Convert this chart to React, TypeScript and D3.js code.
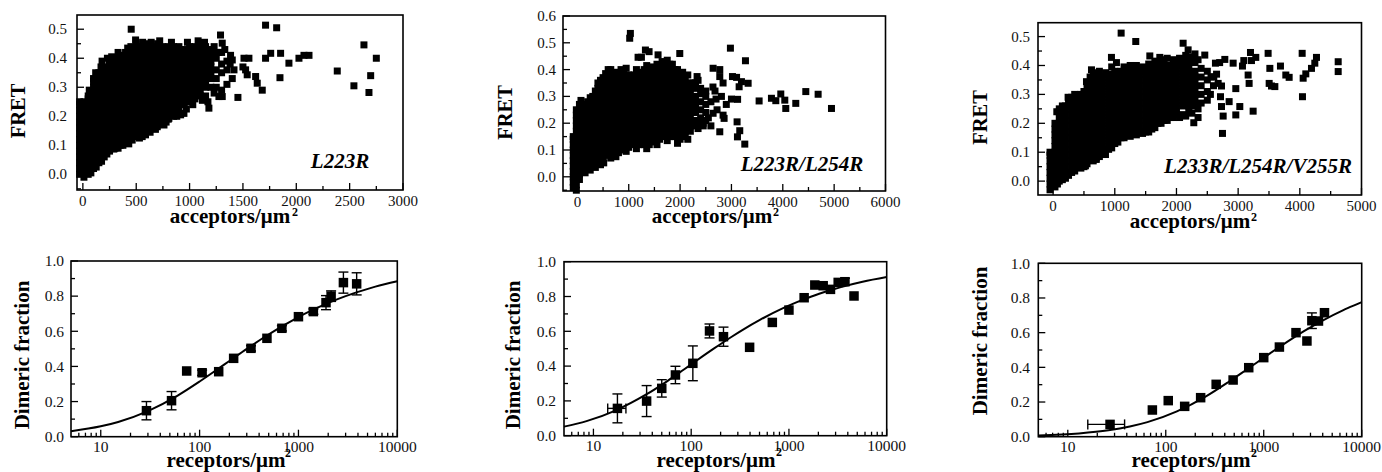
import React from "react";
import * as d3 from "d3";

type Pt = [number, number];
type Col = [number, number[]];

const FONT = '"Liberation Serif", "Times New Roman", Times, serif';

// ---------- FRET scatter data (dense cores as columns x -> FRET values, plus sparse points) ----------
const l223rCols: Col[] = [
  [-30, [0.0, 0.02, 0.04, 0.06, 0.08, 0.1, 0.12, 0.14, 0.16, 0.18, 0.2, 0.22, 0.24, 0.25]],
  [10, [-0.01, 0.01, 0.03, 0.05, 0.07, 0.09, 0.11, 0.13, 0.15, 0.17, 0.19, 0.21, 0.23, 0.25]],
  [50, [0.0, 0.02, 0.04, 0.06, 0.08, 0.1, 0.12, 0.14, 0.16, 0.18, 0.2, 0.22, 0.24, 0.26, 0.27]],
  [100, [0.02, 0.04, 0.06, 0.08, 0.1, 0.12, 0.14, 0.16, 0.18, 0.2, 0.22, 0.24, 0.26, 0.28, 0.3, 0.32, 0.33]],
  [150, [0.04, 0.06, 0.08, 0.1, 0.12, 0.14, 0.16, 0.18, 0.2, 0.22, 0.24, 0.26, 0.28, 0.3, 0.32, 0.34, 0.35]],
  [200, [0.06, 0.08, 0.1, 0.12, 0.14, 0.16, 0.18, 0.2, 0.22, 0.24, 0.26, 0.28, 0.3, 0.32, 0.34, 0.36, 0.37]],
  [250, [0.08, 0.1, 0.12, 0.14, 0.16, 0.18, 0.2, 0.22, 0.24, 0.26, 0.28, 0.3, 0.32, 0.34, 0.36, 0.38, 0.39]],
  [300, [0.09, 0.11, 0.13, 0.15, 0.17, 0.19, 0.21, 0.23, 0.25, 0.27, 0.29, 0.31, 0.33, 0.35, 0.37, 0.39, 0.4]],
  [350, [0.1, 0.12, 0.14, 0.16, 0.18, 0.2, 0.22, 0.24, 0.26, 0.28, 0.3, 0.32, 0.34, 0.36, 0.38, 0.4, 0.41]],
  [400, [0.11, 0.13, 0.15, 0.17, 0.19, 0.21, 0.23, 0.25, 0.27, 0.29, 0.31, 0.33, 0.35, 0.37, 0.39, 0.41, 0.42]],
  [450, [0.12, 0.14, 0.16, 0.18, 0.2, 0.22, 0.24, 0.26, 0.28, 0.3, 0.32, 0.34, 0.36, 0.38, 0.4, 0.42, 0.44]],
  [500, [0.13, 0.15, 0.17, 0.19, 0.21, 0.23, 0.25, 0.27, 0.29, 0.31, 0.33, 0.35, 0.37, 0.39, 0.41, 0.43, 0.45]],
  [550, [0.14, 0.16, 0.18, 0.2, 0.22, 0.24, 0.26, 0.28, 0.3, 0.32, 0.34, 0.36, 0.38, 0.4, 0.42, 0.44]],
  [600, [0.15, 0.17, 0.19, 0.21, 0.23, 0.25, 0.27, 0.29, 0.31, 0.33, 0.35, 0.37, 0.39, 0.41, 0.43, 0.45]],
  [650, [0.16, 0.18, 0.2, 0.22, 0.24, 0.26, 0.28, 0.3, 0.32, 0.34, 0.36, 0.38, 0.4, 0.42, 0.44]],
  [700, [0.17, 0.19, 0.21, 0.23, 0.25, 0.27, 0.29, 0.31, 0.33, 0.35, 0.37, 0.39, 0.41, 0.43, 0.45]],
  [750, [0.18, 0.2, 0.22, 0.24, 0.26, 0.28, 0.3, 0.32, 0.34, 0.36, 0.38, 0.4, 0.42, 0.44]],
  [800, [0.19, 0.21, 0.23, 0.25, 0.27, 0.29, 0.31, 0.33, 0.35, 0.37, 0.39, 0.41, 0.43, 0.44]],
  [850, [0.2, 0.22, 0.24, 0.26, 0.28, 0.3, 0.32, 0.34, 0.36, 0.38, 0.4, 0.42, 0.44]],
  [900, [0.21, 0.23, 0.25, 0.27, 0.29, 0.31, 0.33, 0.35, 0.37, 0.39, 0.41, 0.43, 0.44]],
  [950, [0.24, 0.26, 0.28, 0.3, 0.32, 0.34, 0.36, 0.38, 0.4, 0.42, 0.43]],
  [1000, [0.25, 0.27, 0.29, 0.31, 0.33, 0.35, 0.37, 0.39, 0.41, 0.43, 0.44]],
  [1050, [0.26, 0.28, 0.3, 0.32, 0.34, 0.36, 0.38, 0.4, 0.42, 0.44]],
  [1100, [0.27, 0.29, 0.31, 0.33, 0.35, 0.37, 0.39, 0.41, 0.43, 0.45]],
  [1150, [0.27, 0.3, 0.32, 0.34, 0.36, 0.38, 0.4, 0.42, 0.44]],
  [1200, [0.3, 0.33, 0.35, 0.37, 0.39, 0.41, 0.43]],
  [1250, [0.3, 0.33, 0.36, 0.4, 0.42]],
  [1300, [0.29, 0.35, 0.38, 0.42]],
  [1350, [0.31, 0.36, 0.39]],
];
const l223rPts: Pt[] = [
  [453, 0.5], [494, 0.463], [1290, 0.48], [1306, 0.452], [1270, 0.42], [180, 0.39], [230, 0.4], [120, 0.35],
  [60, 0.29], [130, 0.345], [170, 0.37], [270, 0.405], [330, 0.42], [420, 0.435], [560, 0.455], [640, 0.455],
  [720, 0.46], [830, 0.455], [980, 0.455], [1080, 0.46], [1140, 0.455], [1230, 0.44], [1330, 0.43],
  [1380, 0.38], [1400, 0.33],
  [75, 0.005], [125, 0.025], [175, 0.045], [225, 0.07], [330, 0.09], [430, 0.105], [530, 0.125], [630, 0.145],
  [680, 0.155], [780, 0.18], [970, 0.225], [1030, 0.24], [1120, 0.255], [1230, 0.28],
  [290, 0.087], [375, 0.1], [462, 0.118], [556, 0.13], [587, 0.136], [697, 0.164], [760, 0.17],
  [806, 0.193], [880, 0.2], [916, 0.205], [947, 0.21], [1181, 0.228], [1172, 0.25], [1275, 0.268], [1306, 0.268],
  [1384, 0.41], [1400, 0.394], [1416, 0.36], [1453, 0.265], [1510, 0.4], [1525, 0.36], [1540, 0.343],
  [1556, 0.4], [1500, 0.37], [1619, 0.337], [1634, 0.314], [1681, 0.29], [1712, 0.4], [1712, 0.514],
  [1760, 0.417], [1816, 0.505], [1853, 0.417], [1847, 0.333], [1931, 0.383], [2025, 0.4], [2072, 0.41],
  [2119, 0.41], [2384, 0.356], [2540, 0.305], [2634, 0.446], [2681, 0.282], [2697, 0.34], [2750, 0.4],
];

const l254rCols: Col[] = [
  [-80, [-0.04, -0.02, 0.0, 0.02, 0.04, 0.06, 0.08, 0.1, 0.12, 0.14, 0.15]],
  [-20, [-0.05, -0.03, -0.01, 0.01, 0.03, 0.05, 0.07, 0.09, 0.11, 0.13, 0.15, 0.17, 0.19, 0.21, 0.23, 0.25]],
  [40, [-0.01, 0.01, 0.03, 0.05, 0.07, 0.09, 0.11, 0.13, 0.15, 0.17, 0.19, 0.21, 0.23, 0.25, 0.27]],
  [100, [0.02, 0.04, 0.06, 0.08, 0.1, 0.12, 0.14, 0.16, 0.18, 0.2, 0.22, 0.24, 0.26, 0.27]],
  [200, [0.03, 0.05, 0.07, 0.09, 0.11, 0.13, 0.15, 0.17, 0.19, 0.21, 0.23, 0.25, 0.27, 0.28]],
  [300, [0.04, 0.06, 0.08, 0.1, 0.12, 0.14, 0.16, 0.18, 0.2, 0.22, 0.24, 0.26, 0.28, 0.3]],
  [400, [0.05, 0.07, 0.09, 0.11, 0.13, 0.15, 0.17, 0.19, 0.21, 0.23, 0.25, 0.27, 0.29, 0.31, 0.33, 0.35]],
  [500, [0.06, 0.08, 0.1, 0.12, 0.14, 0.16, 0.18, 0.2, 0.22, 0.24, 0.26, 0.28, 0.3, 0.32, 0.34, 0.36, 0.37]],
  [600, [0.08, 0.1, 0.12, 0.14, 0.16, 0.18, 0.2, 0.22, 0.24, 0.26, 0.28, 0.3, 0.32, 0.34, 0.36, 0.38, 0.4]],
  [700, [0.08, 0.1, 0.12, 0.14, 0.16, 0.18, 0.2, 0.22, 0.24, 0.26, 0.28, 0.3, 0.32, 0.34, 0.36, 0.38]],
  [800, [0.09, 0.11, 0.13, 0.15, 0.17, 0.19, 0.21, 0.23, 0.25, 0.27, 0.29, 0.31, 0.33, 0.35, 0.37, 0.38]],
  [900, [0.1, 0.12, 0.14, 0.16, 0.18, 0.2, 0.22, 0.24, 0.26, 0.28, 0.3, 0.32, 0.34, 0.36, 0.38, 0.39]],
  [1000, [0.11, 0.13, 0.15, 0.17, 0.19, 0.21, 0.23, 0.25, 0.27, 0.29, 0.31, 0.33, 0.35, 0.37, 0.38]],
  [1100, [0.12, 0.14, 0.16, 0.18, 0.2, 0.22, 0.24, 0.26, 0.28, 0.3, 0.32, 0.34, 0.36, 0.38]],
  [1200, [0.12, 0.14, 0.16, 0.18, 0.2, 0.22, 0.24, 0.26, 0.28, 0.3, 0.32, 0.34, 0.36, 0.38, 0.39]],
  [1300, [0.12, 0.14, 0.16, 0.18, 0.2, 0.22, 0.24, 0.26, 0.28, 0.3, 0.32, 0.34, 0.36, 0.38, 0.4]],
  [1400, [0.12, 0.14, 0.16, 0.18, 0.2, 0.22, 0.24, 0.26, 0.28, 0.3, 0.32, 0.34, 0.36, 0.38, 0.39]],
  [1500, [0.13, 0.15, 0.17, 0.19, 0.21, 0.23, 0.25, 0.27, 0.29, 0.31, 0.33, 0.35, 0.37, 0.39, 0.4]],
  [1600, [0.14, 0.16, 0.18, 0.2, 0.22, 0.24, 0.26, 0.28, 0.3, 0.32, 0.34, 0.36, 0.38, 0.4, 0.41]],
  [1700, [0.15, 0.17, 0.19, 0.21, 0.23, 0.25, 0.27, 0.29, 0.31, 0.33, 0.35, 0.37, 0.39, 0.41, 0.42]],
  [1800, [0.15, 0.17, 0.19, 0.21, 0.23, 0.25, 0.27, 0.29, 0.31, 0.33, 0.35, 0.37, 0.39, 0.41, 0.42]],
  [1900, [0.15, 0.17, 0.19, 0.21, 0.23, 0.25, 0.27, 0.29, 0.31, 0.33, 0.35, 0.37, 0.39, 0.4]],
  [2000, [0.14, 0.16, 0.18, 0.2, 0.22, 0.24, 0.26, 0.28, 0.3, 0.32, 0.34, 0.36, 0.38]],
  [2100, [0.15, 0.17, 0.19, 0.21, 0.23, 0.25, 0.27, 0.29, 0.31, 0.33, 0.35, 0.37]],
  [2200, [0.17, 0.19, 0.21, 0.23, 0.25, 0.27, 0.29, 0.31, 0.33, 0.35]],
  [2300, [0.19, 0.21, 0.24, 0.26, 0.28, 0.3, 0.33, 0.35]],
  [2400, [0.2, 0.22, 0.25, 0.28, 0.31, 0.33]],
  [2500, [0.21, 0.24, 0.27, 0.3]],
];
const l254rPts: Pt[] = [
  [1019, 0.517], [1032, 0.535], [1182, 0.446], [1247, 0.446], [1325, 0.473], [1396, 0.467], [1571, 0.455],
  [1994, 0.46], [2980, 0.48], [3273, 0.433], [2331, 0.374], [2643, 0.405], [2250, 0.35], [513, 0.052],
  [70, 0.285], [250, 0.295], [350, 0.32], [450, 0.36], [550, 0.385], [650, 0.4], [750, 0.39], [850, 0.4],
  [950, 0.405], [1150, 0.4], [1350, 0.415], [1450, 0.41], [1550, 0.42], [1650, 0.43], [1750, 0.435],
  [1850, 0.42], [1950, 0.4], [2050, 0.39], [2150, 0.38], [2350, 0.36],
  [150, 0.015], [250, 0.025], [350, 0.035], [450, 0.045], [650, 0.07], [750, 0.075], [950, 0.095],
  [1150, 0.105], [1350, 0.105], [1550, 0.12], [1750, 0.135], [1950, 0.125], [2150, 0.14], [2350, 0.18], [2450, 0.19],
  [2500, 0.32], [2640, 0.335], [2720, 0.25], [2773, 0.374], [2805, 0.3], [2837, 0.23], [2857, 0.218],
  [2773, 0.168], [2643, 0.237], [2837, 0.35], [2773, 0.4], [2600, 0.28], [2700, 0.29], [2550, 0.22],
  [2600, 0.19], [2450, 0.2], [2680, 0.32], [2900, 0.27],
  [3020, 0.374], [3100, 0.371], [3150, 0.336], [3120, 0.289], [3195, 0.355], [3325, 0.349], [3110, 0.205],
  [3162, 0.172], [3117, 0.149], [3260, 0.122], [3000, 0.29],
  [3539, 0.283], [3779, 0.293], [3864, 0.284], [3961, 0.309], [4039, 0.286], [4058, 0.255], [4253, 0.274],
  [4448, 0.318], [4688, 0.308], [4948, 0.255],
];

const v255rCols: Col[] = [
  [-50, [-0.03, -0.01, 0.01, 0.03, 0.05, 0.07, 0.09, 0.1]],
  [30, [-0.02, 0.0, 0.02, 0.04, 0.06, 0.08, 0.1, 0.12, 0.14, 0.16, 0.18, 0.2]],
  [100, [0.0, 0.02, 0.04, 0.06, 0.08, 0.1, 0.12, 0.14, 0.16, 0.18, 0.2, 0.22, 0.24, 0.25]],
  [200, [0.01, 0.03, 0.05, 0.07, 0.09, 0.11, 0.13, 0.15, 0.17, 0.19, 0.21, 0.23, 0.25, 0.26]],
  [300, [0.03, 0.05, 0.07, 0.09, 0.11, 0.13, 0.15, 0.17, 0.19, 0.21, 0.23, 0.25, 0.27, 0.29]],
  [400, [0.05, 0.07, 0.09, 0.11, 0.13, 0.15, 0.17, 0.19, 0.21, 0.23, 0.25, 0.27, 0.29]],
  [500, [0.05, 0.07, 0.09, 0.11, 0.13, 0.15, 0.17, 0.19, 0.21, 0.23, 0.25, 0.27, 0.29, 0.31]],
  [600, [0.08, 0.1, 0.12, 0.14, 0.16, 0.18, 0.2, 0.22, 0.24, 0.26, 0.28, 0.3, 0.32, 0.34, 0.36]],
  [700, [0.08, 0.1, 0.12, 0.14, 0.16, 0.18, 0.2, 0.22, 0.24, 0.26, 0.28, 0.3, 0.32, 0.34, 0.36, 0.37]],
  [800, [0.1, 0.12, 0.14, 0.16, 0.18, 0.2, 0.22, 0.24, 0.26, 0.28, 0.3, 0.32, 0.34, 0.36]],
  [900, [0.11, 0.13, 0.15, 0.17, 0.19, 0.21, 0.23, 0.25, 0.27, 0.29, 0.31, 0.33, 0.35, 0.37]],
  [1000, [0.13, 0.15, 0.17, 0.19, 0.21, 0.23, 0.25, 0.27, 0.29, 0.31, 0.33, 0.35, 0.37, 0.38]],
  [1100, [0.15, 0.17, 0.19, 0.21, 0.23, 0.25, 0.27, 0.29, 0.31, 0.33, 0.35, 0.37, 0.38]],
  [1200, [0.16, 0.18, 0.2, 0.22, 0.24, 0.26, 0.28, 0.3, 0.32, 0.34, 0.36, 0.38, 0.39]],
  [1300, [0.17, 0.19, 0.21, 0.23, 0.25, 0.27, 0.29, 0.31, 0.33, 0.35, 0.37, 0.38]],
  [1400, [0.17, 0.19, 0.21, 0.23, 0.25, 0.27, 0.29, 0.31, 0.33, 0.35, 0.37, 0.38]],
  [1500, [0.17, 0.19, 0.21, 0.23, 0.25, 0.27, 0.29, 0.31, 0.33, 0.35, 0.37, 0.39]],
  [1600, [0.18, 0.2, 0.22, 0.24, 0.26, 0.28, 0.3, 0.32, 0.34, 0.36, 0.38, 0.4]],
  [1700, [0.2, 0.22, 0.24, 0.26, 0.28, 0.3, 0.32, 0.34, 0.36, 0.38, 0.4, 0.41]],
  [1800, [0.21, 0.23, 0.25, 0.27, 0.29, 0.31, 0.33, 0.35, 0.37, 0.39, 0.41]],
  [1900, [0.22, 0.24, 0.26, 0.28, 0.3, 0.32, 0.34, 0.36, 0.38, 0.4]],
  [2000, [0.23, 0.25, 0.27, 0.29, 0.31, 0.33, 0.35, 0.37, 0.39, 0.41]],
  [2100, [0.23, 0.26, 0.28, 0.3, 0.32, 0.34, 0.36, 0.38, 0.4, 0.42]],
  [2200, [0.24, 0.26, 0.28, 0.3, 0.32, 0.34, 0.36, 0.38, 0.4, 0.42]],
  [2300, [0.26, 0.28, 0.3, 0.32, 0.34, 0.36, 0.38, 0.41]],
  [2400, [0.27, 0.3, 0.33, 0.36, 0.39]],
  [2500, [0.28, 0.31, 0.35, 0.38]],
];
const v255rPts: Pt[] = [
  [1103, 0.512], [1340, 0.483], [2108, 0.477], [2189, 0.454], [946, 0.428], [1027, 0.41], [1568, 0.433],
  [1730, 0.428], [2459, 0.436], [2300, 0.44], [524, 0.053], [700, 0.075], [849, 0.092], [2281, 0.202], [2350, 0.22],
  [541, 0.344], [622, 0.385], [243, 0.29], [60, 0.24], [405, 0.085], [1081, 0.16], [1324, 0.18],
  [150, 0.26], [250, 0.275], [350, 0.3], [450, 0.3], [550, 0.33], [650, 0.375], [750, 0.38], [850, 0.375],
  [950, 0.395], [1150, 0.395], [1250, 0.4], [1350, 0.4], [1450, 0.395], [1550, 0.405], [1650, 0.415],
  [1750, 0.42], [1850, 0.425], [1950, 0.42], [2050, 0.425], [2150, 0.435], [2250, 0.43], [2350, 0.42],
  [70, -0.01], [150, 0.005], [250, 0.02], [350, 0.035], [450, 0.045], [550, 0.06], [650, 0.07], [750, 0.085],
  [950, 0.115], [1050, 0.135], [1150, 0.15], [1250, 0.155], [1350, 0.16], [1450, 0.165], [1550, 0.17],
  [1650, 0.185], [1750, 0.2], [1850, 0.21], [1950, 0.22], [2050, 0.22], [2150, 0.225], [2250, 0.235], [2350, 0.25],
  [2632, 0.408], [2605, 0.361], [2676, 0.338], [2730, 0.329], [2714, 0.292], [2730, 0.258], [2757, 0.225],
  [2746, 0.165], [2784, 0.421], [2854, 0.275], [2919, 0.408], [2962, 0.32], [2962, 0.229], [3027, 0.258],
  [3070, 0.398], [3092, 0.417], [3162, 0.367], [3178, 0.338], [3200, 0.445], [3216, 0.417], [3243, 0.242],
  [3286, 0.428], [3486, 0.442], [3514, 0.39], [3503, 0.338], [3541, 0.329], [3595, 0.327], [3686, 0.398],
  [3773, 0.367], [3827, 0.359], [4038, 0.442], [4043, 0.292], [4054, 0.356], [4097, 0.371], [4189, 0.39],
  [4243, 0.408], [4270, 0.428], [4622, 0.413], [4622, 0.379],
  [2550, 0.3], [2600, 0.33], [2650, 0.37], [2700, 0.41], [2560, 0.36],
];

// ---------- Dimeric fraction data: [receptors, fraction, yErr, xLo?, xHi?] ----------
type EPt = [number, number, number, number?, number?];
const dimL223R: EPt[] = [
  [29, 0.148, 0.052], [52, 0.205, 0.052], [74, 0.374, 0.01], [106, 0.364, 0.015], [156, 0.37, 0.01],
  [221, 0.446, 0.01], [331, 0.503, 0.015], [480, 0.56, 0.01], [680, 0.617, 0.015], [1000, 0.683, 0.01],
  [1415, 0.712, 0.015], [1900, 0.763, 0.04], [2140, 0.8, 0.03], [2850, 0.877, 0.06], [3880, 0.87, 0.063],
];
const dimL254R: EPt[] = [
  [17.6, 0.157, 0.083, 14, 21.5], [35, 0.199, 0.089], [50, 0.272, 0.05], [69, 0.349, 0.05], [104, 0.416, 0.1],
  [154, 0.602, 0.04], [214, 0.569, 0.055], [396, 0.508, 0.0], [676, 0.651, 0.01], [1000, 0.722, 0.01],
  [1430, 0.793, 0.01], [1840, 0.866, 0.01], [2240, 0.862, 0.01], [2660, 0.841, 0.01], [3190, 0.881, 0.01],
  [3740, 0.885, 0.02], [4630, 0.803, 0.01],
];
const dimV255R: EPt[] = [
  [27, 0.071, 0.01, 16, 38], [73, 0.154, 0.01], [106, 0.208, 0.01], [156, 0.175, 0.01], [227, 0.225, 0.01],
  [327, 0.302, 0.01], [487, 0.327, 0.01], [703, 0.398, 0.01], [1000, 0.456, 0.01], [1445, 0.517, 0.01],
  [2135, 0.6, 0.01], [2760, 0.552, 0.01], [3100, 0.669, 0.045], [3620, 0.667, 0.01], [4170, 0.715, 0.01],
];

// fitted curves
const fitL223R: Pt[] = [
  [5, 0.031], [10, 0.059], [15, 0.084], [30, 0.146], [60, 0.234], [100, 0.314], [150, 0.382], [200, 0.431],
  [300, 0.5], [450, 0.566], [600, 0.61], [900, 0.667], [1500, 0.73], [2100, 0.766], [3000, 0.8], [4500, 0.833],
  [6000, 0.854], [10000, 0.885],
];
const fitL254R: Pt[] = [
  [5, 0.052], [8.5, 0.084], [17, 0.146], [34, 0.234], [57, 0.314], [85, 0.382], [113, 0.431], [170, 0.5],
  [255, 0.566], [340, 0.61], [510, 0.667], [850, 0.73], [1190, 0.766], [1700, 0.8], [2550, 0.833], [3400, 0.854],
  [5667, 0.885], [10000, 0.912],
];
const fitV255R: Pt[] = [
  [5, 0.007], [13, 0.019], [26, 0.037], [43, 0.059], [65, 0.084], [130, 0.146], [260, 0.234], [433, 0.314],
  [650, 0.382], [867, 0.431], [1300, 0.5], [1950, 0.566], [2600, 0.61], [3900, 0.667], [6500, 0.73],
  [9100, 0.766], [10000, 0.776],
];

// ---------- ticks ----------
const fretYMajor = [0, 0.1, 0.2, 0.3, 0.4, 0.5];
const fretYMajor2 = [0, 0.1, 0.2, 0.3, 0.4, 0.5, 0.6];
const fretYMinor = [-0.05, 0.05, 0.15, 0.25, 0.35, 0.45];
const fretYMinor2 = [-0.05, 0.05, 0.15, 0.25, 0.35, 0.45, 0.55];
const accX1Major = [0, 500, 1000, 1500, 2000, 2500, 3000];
const accX1Minor = [250, 750, 1250, 1750, 2250, 2750];
const accX2Major = [0, 1000, 2000, 3000, 4000, 5000, 6000];
const accX2Minor = [500, 1500, 2500, 3500, 4500, 5500];
const accX3Major = [0, 1000, 2000, 3000, 4000, 5000];
const accX3Minor = [500, 1500, 2500, 3500, 4500];
const recXMajor = [10, 100, 1000, 10000];
const recXMinor = [6, 7, 8, 9, 20, 30, 40, 50, 60, 70, 80, 90, 200, 300, 400, 500, 600, 700, 800, 900,
  2000, 3000, 4000, 5000, 6000, 7000, 8000, 9000];
const dimYMajor = [0, 0.2, 0.4, 0.6, 0.8, 1.0];
const dimYMinor = [0.1, 0.3, 0.5, 0.7, 0.9];

interface Frame { l: number; r: number; t: number; b: number }

interface ScatterCfg {
  f: Frame;
  xDomain: [number, number];
  yDomain: [number, number];
  xMajor: number[]; xMinor: number[]; yMajor: number[]; yMinor: number[];
  cols: Col[]; pts: Pt[];
  label: string; labelX: number; labelY: number;
  yLabEnd: number; titleX: number; titleY: number; supX: number; supY: number;
  fretX: number; fretY: number;
}

const MAJ = 7;
const MIN = 4;
const txt = { fontFamily: FONT };

function ScatterPanel({ c }: { c: ScatterCfg }) {
  const { l, r, t, b } = c.f;
  const x = d3.scaleLinear().domain(c.xDomain).range([l, r]);
  const y = d3.scaleLinear().domain(c.yDomain).range([b, t]);
  const all: Pt[] = [...c.cols.flatMap(([cx, ys]) => ys.map((v) => [cx, v] as Pt)), ...c.pts];
  const s = 7;
  const fy = d3.format(".1f");
  return (
    <g>
      {all.map(([px, py], i) => (
        <rect key={i} x={x(px) - s / 2} y={y(py) - s / 2} width={s} height={s} fill="#000" />
      ))}
      <rect x={l} y={t} width={r - l} height={b - t} fill="none" stroke="#000" strokeWidth={1.6} />
      {c.xMajor.map((v) => (
        <line key={"xm" + v} x1={x(v)} x2={x(v)} y1={b} y2={b - MAJ} stroke="#000" strokeWidth={1.3} />
      ))}
      {c.xMinor.map((v) => (
        <line key={"xn" + v} x1={x(v)} x2={x(v)} y1={b} y2={b - MIN} stroke="#000" strokeWidth={1.3} />
      ))}
      {c.yMajor.map((v) => (
        <line key={"ym" + v} x1={l} x2={l + MAJ} y1={y(v)} y2={y(v)} stroke="#000" strokeWidth={1.3} />
      ))}
      {c.yMinor.filter((v) => y(v) > t && y(v) < b).map((v) => (
        <line key={"yn" + v} x1={l} x2={l + MIN} y1={y(v)} y2={y(v)} stroke="#000" strokeWidth={1.3} />
      ))}
      {c.xMajor.map((v) => (
        <text key={"xl" + v} x={x(v)} y={b + 16} textAnchor="middle" fontSize={15} fill="#111" style={txt}>{v}</text>
      ))}
      {c.yMajor.map((v) => (
        <text key={"yl" + v} x={c.yLabEnd} y={y(v) + 5} textAnchor="end" fontSize={15} fill="#111" style={txt}>{fy(v)}</text>
      ))}
      <text x={c.titleX} y={c.titleY} textAnchor="middle" fontSize={21} fontWeight="bold" style={txt}>acceptors/μm</text>
      <text x={c.supX} y={c.supY} fontSize={12} fontWeight="bold" style={txt}>2</text>
      <text transform={`translate(${c.fretX},${c.fretY}) rotate(-90)`} textAnchor="middle" dominantBaseline="central"
        fontSize={20.5} fontWeight="bold" style={txt}>FRET</text>
      <text x={c.labelX} y={c.labelY} textAnchor="middle" fontSize={21} fontWeight="bold" fontStyle="italic" style={txt}>{c.label}</text>
    </g>
  );
}

interface FitCfg {
  f: Frame;
  data: EPt[]; fit: Pt[];
  yLabEnd: number; titleX: number; supX: number; supY: number; dimX: number; dimY: number;
}

function FitPanel({ c }: { c: FitCfg }) {
  const { l, r, t, b } = c.f;
  const x = d3.scaleLog().domain([5, 10000]).range([l, r]);
  const y = d3.scaleLinear().domain([0, 1]).range([b, t]);
  const line = d3.line<Pt>().x((d) => x(d[0])).y((d) => y(d[1])).curve(d3.curveMonotoneX);
  const s = 9.5;
  const cap = 5;
  const fy = d3.format(".1f");
  return (
    <g>
      <rect x={l} y={t} width={r - l} height={b - t} fill="none" stroke="#000" strokeWidth={1.6} />
      {recXMajor.map((v) => (
        <line key={"xm" + v} x1={x(v)} x2={x(v)} y1={b} y2={b - MAJ} stroke="#000" strokeWidth={1.3} />
      ))}
      {recXMinor.map((v) => (
        <line key={"xn" + v} x1={x(v)} x2={x(v)} y1={b} y2={b - MIN} stroke="#000" strokeWidth={1.3} />
      ))}
      {dimYMajor.map((v) => (
        <line key={"ym" + v} x1={l} x2={l + MAJ} y1={y(v)} y2={y(v)} stroke="#000" strokeWidth={1.3} />
      ))}
      {dimYMinor.map((v) => (
        <line key={"yn" + v} x1={l} x2={l + MIN} y1={y(v)} y2={y(v)} stroke="#000" strokeWidth={1.3} />
      ))}
      <path d={line(c.fit) || ""} fill="none" stroke="#000" strokeWidth={2} />
      {c.data.map(([px, py, e, xlo, xhi], i) => (
        <g key={i} stroke="#000" strokeWidth={1.4}>
          {e > 0.012 && (
            <g>
              <line x1={x(px)} x2={x(px)} y1={y(py - e)} y2={y(py + e)} />
              <line x1={x(px) - cap} x2={x(px) + cap} y1={y(py - e)} y2={y(py - e)} />
              <line x1={x(px) - cap} x2={x(px) + cap} y1={y(py + e)} y2={y(py + e)} />
            </g>
          )}
          {xlo !== undefined && xhi !== undefined && (
            <g>
              <line x1={x(xlo)} x2={x(xhi)} y1={y(py)} y2={y(py)} />
              <line x1={x(xlo)} x2={x(xlo)} y1={y(py) - cap} y2={y(py) + cap} />
              <line x1={x(xhi)} x2={x(xhi)} y1={y(py) - cap} y2={y(py) + cap} />
            </g>
          )}
          <rect x={x(px) - s / 2} y={y(py) - s / 2} width={s} height={s} fill="#000" stroke="none" />
        </g>
      ))}
      {recXMajor.map((v) => (
        <text key={"xl" + v} x={x(v)} y={b + 15.5} textAnchor="middle" fontSize={15.5} fill="#111" style={txt}>{v}</text>
      ))}
      {dimYMajor.map((v) => (
        <text key={"yl" + v} x={c.yLabEnd} y={y(v) + 5.3} textAnchor="end" fontSize={15.5} fill="#111" style={txt}>{fy(v)}</text>
      ))}
      <text x={c.titleX} y={467} textAnchor="middle" fontSize={21} fontWeight="bold" style={txt}>receptors/μm</text>
      <text x={c.supX} y={c.supY} fontSize={12} fontWeight="bold" style={txt}>2</text>
      <text transform={`translate(${c.dimX},${c.dimY}) rotate(-90)`} textAnchor="middle" dominantBaseline="central"
        fontSize={21} fontWeight="bold" style={txt}>Dimeric fraction</text>
    </g>
  );
}

const scatterCfgs: ScatterCfg[] = [
  {
    f: { l: 77, r: 403, t: 15, b: 190 }, xDomain: [-55, 3000], yDomain: [-0.054, 0.549],
    xMajor: accX1Major, xMinor: accX1Minor, yMajor: fretYMajor, yMinor: fretYMinor,
    cols: l223rCols, pts: l223rPts, label: "L223R", labelX: 340, labelY: 168,
    yLabEnd: 67, titleX: 230, titleY: 223, supX: 292, supY: 216, fretX: 18, fretY: 111,
  },
  {
    f: { l: 563, r: 885.5, t: 16, b: 191 }, xDomain: [-280, 6000], yDomain: [-0.053, 0.6],
    xMajor: accX2Major, xMinor: accX2Minor, yMajor: fretYMajor2, yMinor: fretYMinor2,
    cols: l254rCols, pts: l254rPts, label: "L223R/L254R", labelX: 802, labelY: 171,
    yLabEnd: 556, titleX: 712, titleY: 223, supX: 773, supY: 216, fretX: 505, fretY: 112.5,
  },
  {
    f: { l: 1038, r: 1361.5, t: 22.7, b: 195 }, xDomain: [-245, 5000], yDomain: [-0.048, 0.548],
    xMajor: accX3Major, xMinor: accX3Minor, yMajor: fretYMajor, yMinor: fretYMinor,
    cols: v255rCols, pts: v255rPts, label: "L233R/L254R/V255R", labelX: 1258, labelY: 173,
    yLabEnd: 1030, titleX: 1190, titleY: 228, supX: 1251, supY: 221, fretX: 980, fretY: 117.5,
  },
];

const fitCfgs: FitCfg[] = [
  { f: { l: 71, r: 397.3, t: 261, b: 436.7 }, data: dimL223R, fit: fitL223R, yLabEnd: 64, titleX: 226, supX: 285, supY: 457, dimX: 22, dimY: 355 },
  { f: { l: 564, r: 886.7, t: 261.7, b: 435.7 }, data: dimL254R, fit: fitL254R, yLabEnd: 556, titleX: 716, supX: 776, supY: 456, dimX: 513, dimY: 355 },
  { f: { l: 1038.3, r: 1361.7, t: 263.3, b: 436.7 }, data: dimV255R, fit: fitV255R, yLabEnd: 1030, titleX: 1191, supX: 1251, supY: 457, dimX: 980, dimY: 341 },
];

export default function App() {
  return (
    <svg width={1382} height={472} style={{ position: "absolute", left: 0, top: 0, background: "#fff", fontFamily: FONT }}>
      <rect width={1382} height={472} fill="#fff" />
      {scatterCfgs.map((c, i) => <ScatterPanel key={i} c={c} />)}
      {fitCfgs.map((c, i) => <FitPanel key={i} c={c} />)}
    </svg>
  );
}
